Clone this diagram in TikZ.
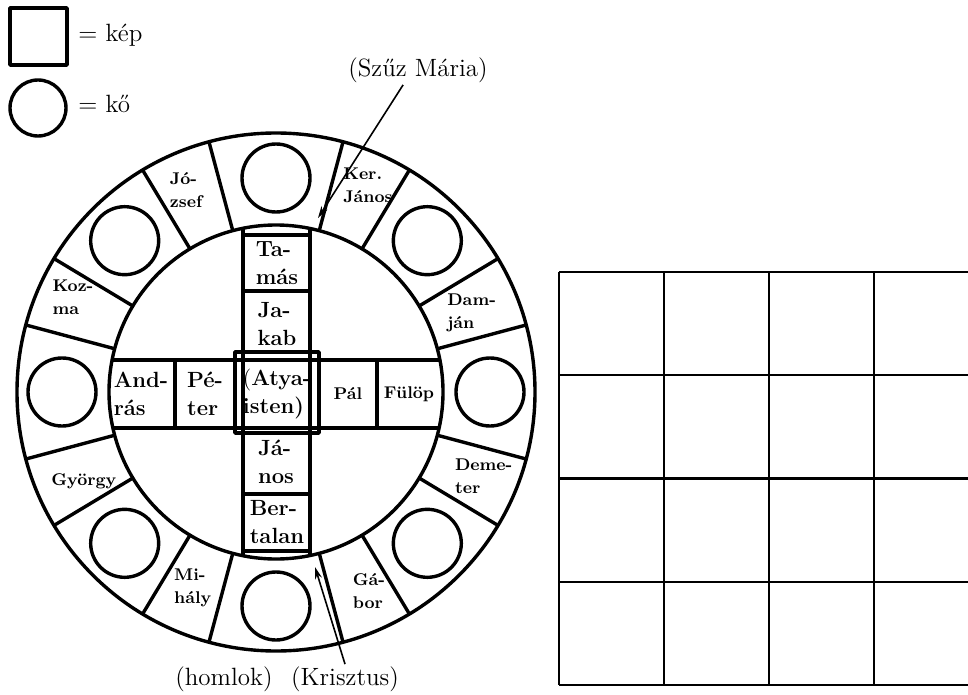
\documentclass[tikz,border=0pt]{standalone}
\usepackage{fontspec}
\usetikzlibrary{arrows.meta}

\begin{document}
\begin{tikzpicture}[x=0.5pt,y=0.5pt,line join=round,
    ring/.style={line width=1.7pt},
    gridline/.style={line width=1.2pt},
    saint/.style={font=\fontsize{8.5}{11.5}\selectfont\bfseries,align=left,inner sep=0pt},
    apostle/.style={font=\fontsize{11}{14}\selectfont\bfseries,align=left,inner sep=0pt},
    note/.style={font=\fontsize{12.5}{15}\selectfont,inner sep=1pt},
    pointer/.style={line width=0.8pt,-{Stealth[length=6pt,width=3.5pt]}}]
\useasboundingbox (0,0) rectangle (968,-695);
\def\rin{167}
\def\rout{259}
\def\rst{214}   % stones sit on the middle of the ring

% ---- legend ----
\draw[ring] (10,-8) rectangle (67,-65);
\node[note,anchor=west] (kep) at (76,-35) {= kép};
\draw[ring] (38,-108) circle[radius=28];
\node[note,anchor=west] (ko) at (76,-104) {= kő};

% ---- the ring: stones and pictures ----
\begin{scope}[shift={(276,-392)}]
  \draw[ring] (0,0) circle[radius=\rout];
  \draw[ring] (0,0) circle[radius=\rin];
  \foreach \a in {15,31,59,75,105,121,149,165,195,211,239,255,285,301,329,345}
    \draw[ring] (\a:\rin) -- (\a:\rout);
  \foreach \a in {0,45,...,315}
    \draw[ring] (\a:\rst) circle[radius=34];
  \foreach \a/\r/\n/\t in {%
      22/211/damjan/{Dam-\\ján},
      66/226/kerjanos/{Ker.\\János},
      114/221/jozsef/{Jó-\\zsef},
      155/224/kozma/{Koz-\\ma},
      205/212/gyorgy/{György},
      247/213/mihaly/{Mi-\\hály},
      295/220/gabor/{Gá-\\bor},
      338/224/demeter/{Deme-\\ter}}
    \node[saint] (\n) at (\a:\r) {\t};

  % ---- the cross inside ----
  \begin{scope}
    \clip (0,0) circle[radius=\rin];
    \draw[ring] (-33,-200) -- (-33,200) (34,-200) -- (34,200);
    \draw[ring] (-200,32) -- (200,32) (-200,-36) -- (200,-36);
  \end{scope}
  \draw[ring] (-33,157) -- (34,157) (-33,101) -- (34,101)
              (-33,-102) -- (34,-102) (-33,-159) -- (34,-159);
  \draw[ring] (-101,32) -- (-101,-36) (101,32) -- (101,-36);
  \draw[ring] (-41,40) rectangle (43,-41);

  \node[apostle] (tamas) at (1,129) {Ta-\\más};
  \node[apostle] (jakab) at (1,68) {Ja-\\kab};
  \node[apostle] (atya) at (1,-2) {{\mdseries(}Atya-\\isten)};
  \node[apostle] (janos) at (0,-70) {Já-\\nos};
  \node[apostle] (bertalan) at (1,-130) {Ber-\\talan};
  \node[apostle] (andras) at (-135,-2) {And-\\rás};
  \node[apostle] (peter) at (-71,-2) {Pé-\\ter};
  \node[saint] (pal) at (72,-2) {Pál};
  \node[saint] (fulop) at (133,-2) {Fülöp};

  \coordinate (mariatip) at (42,174);
  \coordinate (krisztustip) at (39,-175);
\end{scope}

% ---- notes round the ring ----
\node[note] (maria) at (418,-70) {(Szűz Mária)};
\node[note] (homlok) at (224,-679) {(homlok)};
\node[note] (krisztus) at (345,-679) {(Krisztus)};
\draw[pointer] (maria.225) -- (mariatip);
\draw[pointer] (krisztus.north) -- (krisztustip);

% ---- empty grid on the right ----
\begin{scope}
  \clip (540,-250) rectangle (968,-695);
  \foreach \c in {0,...,4}
    \draw[gridline] ({559+105*\c},-272) -- ({559+105*\c},-685);
  \foreach \r in {0,...,4}
    \draw[gridline] (559,{-272-103.25*\r}) -- (1000,{-272-103.25*\r});
\end{scope}
\end{tikzpicture}
\end{document}
